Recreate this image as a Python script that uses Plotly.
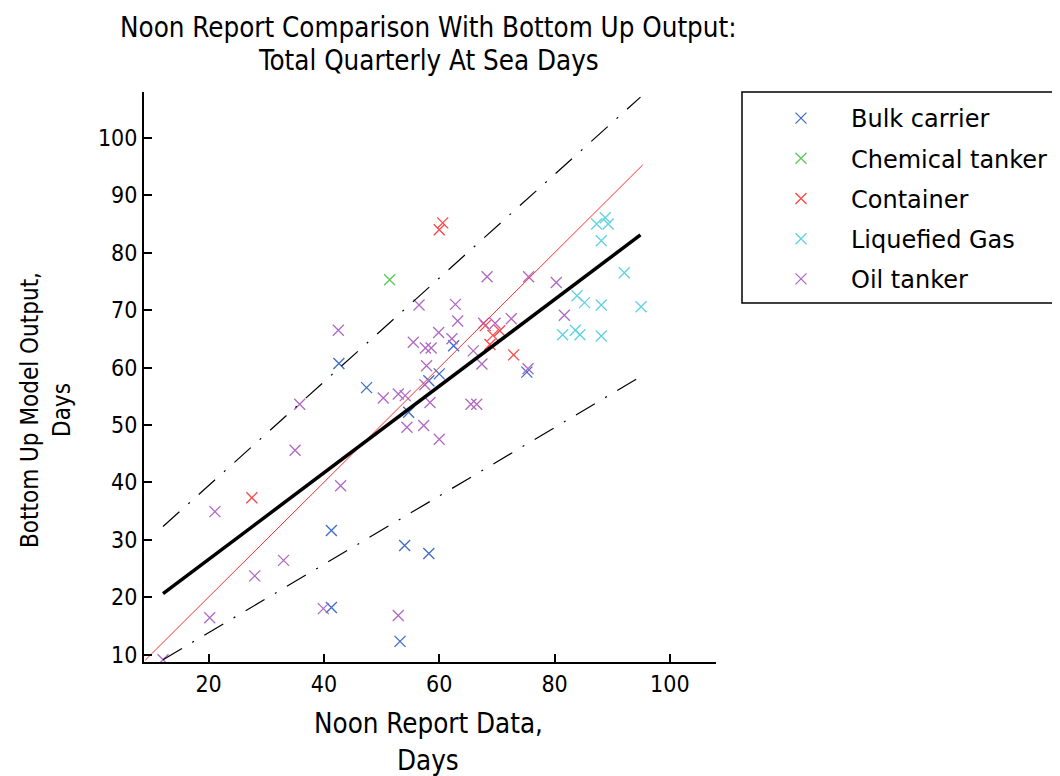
import plotly.graph_objects as go

# ship type groups, x = noon report days, y = bottom up model days
bulk_x = [42.6, 47.4, 54.7, 58.2, 60.0, 62.5, 75.2, 41.3, 54.0, 58.2, 41.3, 53.2]
bulk_y = [60.7, 56.5, 52.2, 57.7, 58.9, 63.8, 59.2, 31.6, 29.0, 27.6, 18.2, 12.3]

chem_x = [51.4]
chem_y = [75.3]

cont_x = [60.0, 60.6, 27.5, 72.9, 68.0, 69.3, 70.5, 68.8]
cont_y = [84.0, 85.2, 37.3, 62.2, 67.3, 65.6, 66.4, 64.0]

lng_x = [87.3, 88.8, 89.3, 88.1, 92.1, 83.9, 85.2, 88.1, 95.0, 81.4, 83.6, 84.4, 88.1]
lng_y = [85.0, 86.1, 85.0, 82.1, 76.5, 72.5, 71.3, 70.9, 70.6, 65.7, 66.5, 65.7, 65.5]

oil_x = [12.1, 20.2, 21.1, 28.0, 33.0, 35.0, 35.8, 39.9, 42.9, 42.5, 50.3, 52.9, 54.1, 52.9,
         54.4, 57.3, 60.0, 58.4, 57.5, 57.8, 55.5, 57.6, 58.6, 56.5, 59.9, 62.2, 62.8, 63.2,
         65.9, 67.4, 65.5, 66.5, 67.7, 69.7, 72.5, 68.3, 75.5, 75.4, 80.3, 81.7]
oil_y = [9.1, 16.4, 34.9, 23.7, 26.4, 45.6, 53.6, 18.0, 39.4, 66.5, 54.7, 55.4, 55.1, 16.8,
         49.6, 49.9, 47.5, 53.9, 57.0, 60.3, 64.4, 63.4, 63.4, 70.9, 66.1, 65.0, 71.0, 68.1,
         62.9, 60.6, 53.6, 53.6, 67.7, 67.7, 68.5, 75.8, 75.8, 59.8, 74.8, 69.1]

# fitted line, bounds and 1:1 line (end points)
fit_x = [12.1, 94.9]
fit_y = [20.6, 83.1]
upper_y = [32.3, 107.1]
lower_y = [9.1, 58.4]
diag_x = [9.0, 95.3]
diag_y = [9.0, 95.3]

groups = [
    ('Bulk carrier', bulk_x, bulk_y, '#3d6cc9'),
    ('Chemical tanker', chem_x, chem_y, '#5cc85a'),
    ('Container', cont_x, cont_y, '#ff4545'),
    ('Liquefied Gas', lng_x, lng_y, '#5ed2e2'),
    ('Oil tanker', oil_x, oil_y, '#b068c4'),
]

NARROW = 'DejaVu Sans Condensed, Liberation Sans Narrow, sans-serif'

# page body adds 8px margin, so the figure is a bit smaller than the window
W, H = 1052, 768
PW, PH = 572, 570


# page pixel (as seen in the screenshot) -> paper coords
def py(v):
    return 1 - (v - 92) / PH


def px(v):
    return (v - 144) / PW


fig = go.Figure()

for name, xs, ys, col in groups:
    fig.add_trace(go.Scatter(
        x=xs, y=ys, mode='markers', name=name, legendgroup=name,
        marker=dict(symbol='x-thin', size=11, line=dict(color=col, width=1.3)),
    ))

fig.add_trace(go.Scatter(x=diag_x, y=diag_y, mode='lines', showlegend=False,
                         line=dict(color='#ff3030', width=1)))
fig.add_trace(go.Scatter(x=fit_x, y=upper_y, mode='lines', showlegend=False,
                         line=dict(color='black', width=1.2, dash='22px,12px,2px,12px')))
fig.add_trace(go.Scatter(x=fit_x, y=lower_y, mode='lines', showlegend=False,
                         line=dict(color='black', width=1.2, dash='22px,12px,2px,12px')))
fig.add_trace(go.Scatter(x=fit_x, y=fit_y, mode='lines', showlegend=False,
                         line=dict(color='black', width=3.5)))

fig.update_layout(
    width=W, height=H,
    margin=dict(l=136, r=W - 136 - PW, t=84, b=H - 84 - PH, autoexpand=False),
    paper_bgcolor='white', plot_bgcolor='white',
    font=dict(family=NARROW, size=23, color='black'),
    showlegend=True,
    legend=dict(
        x=px(751), y=py(96), xanchor='left', yanchor='top',
        borderwidth=0, bgcolor='rgba(0,0,0,0)',
        font=dict(family='DejaVu Sans', size=24, color='black'),
        tracegroupgap=6, itemwidth=90,
    ),
)

# legend frame drawn separately so the entries can sit where the reference has them
fig.add_shape(type='rect', xref='paper', yref='paper',
              x0=px(742), x1=px(1057), y0=py(303), y1=py(92),
              line=dict(color='black', width=1.5))

fig.update_xaxes(range=[8.8, 108], tickvals=[20, 40, 60, 80, 100],
                 showgrid=False, zeroline=False, showline=True, linecolor='black', linewidth=2,
                 ticks='inside', ticklen=8, tickwidth=2, tickcolor='black')
fig.update_yaxes(range=[8.7, 108], tickvals=[10, 20, 30, 40, 50, 60, 70, 80, 90, 100],
                 showgrid=False, zeroline=False, showline=True, linecolor='black', linewidth=2,
                 ticks='inside', ticklen=8, tickwidth=2, tickcolor='black')

fig.add_annotation(text='Noon Report Comparison With Bottom Up Output:', xref='paper', yref='paper',
                   x=px(428), y=py(27), showarrow=False, xanchor='center', yanchor='middle',
                   font=dict(size=27.5))
fig.add_annotation(text='Total Quarterly At Sea Days', xref='paper', yref='paper',
                   x=px(428), y=py(60), showarrow=False, xanchor='center', yanchor='middle',
                   font=dict(size=27.5))
fig.add_annotation(text='Noon Report Data,', xref='paper', yref='paper', x=px(428),
                   y=py(723), showarrow=False, xanchor='center', yanchor='middle',
                   font=dict(size=27.5))
fig.add_annotation(text='Days', xref='paper', yref='paper', x=px(428),
                   y=py(760), showarrow=False, xanchor='center', yanchor='middle',
                   font=dict(size=27.5))
fig.add_annotation(text='Bottom Up Model Output,', xref='paper', yref='paper',
                   x=px(30), y=py(410), textangle=-90, showarrow=False,
                   xanchor='center', yanchor='middle', font=dict(size=24))
fig.add_annotation(text='Days', xref='paper', yref='paper',
                   x=px(62), y=py(410), textangle=-90, showarrow=False,
                   xanchor='center', yanchor='middle', font=dict(size=24))

fig.write_html("out.html")
